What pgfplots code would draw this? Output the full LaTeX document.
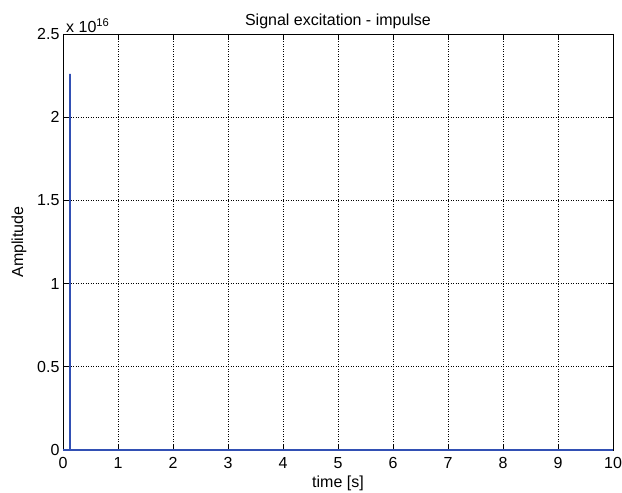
\documentclass[border=0pt]{standalone}
\usepackage{fontspec}
\setmainfont{Liberation Sans}
\usepackage{pgfplots}
\pgfplotsset{compat=1.18}
\definecolor{mblue}{RGB}{50,80,180}
\newcommand{\cf}{\fontsize{16bp}{19bp}\selectfont}
\begin{document}
\cf
\begin{tikzpicture}
\path[use as bounding box] (0,0) rectangle (622bp,493bp);
\begin{axis}[
  at={(63bp,43bp)}, anchor=south west,
  scale only axis, width=550bp, height=416bp,
  xmin=0, xmax=10, ymin=0, ymax=2.5e16,
  xtick={0,1,...,10},
  ytick={0,0.5e16,1e16,1.5e16,2e16,2.5e16},
  scaled y ticks=base 10:-16,
  ytick scale label code/.code={x 10\textsuperscript{16}},
  every y tick scale label/.style={at={(rel axis cs:0,1)}, anchor=south west, inner sep=1bp, xshift=0bp},
  /pgf/number format/assume math mode=true,
  tick align=inside,
  major tick length=5bp,
  grid=major,
  major grid style={black, dash pattern=on 1bp off 1.5bp, line width=0.6bp},
  axis line style={black, line width=0.9bp},
  tick style={black, line width=0.6bp},
  clip=false,
  title={Signal excitation - impulse},
  title style={yshift=-6bp},
  xlabel={time [s]},
  ylabel={Amplitude},
  xlabel style={yshift=4bp},
  ylabel style={yshift=0bp},
  xticklabel style={yshift=-2bp},
  yticklabel style={xshift=2bp},
  tick label style={font=\cf},
  label style={font=\cf},
  title style={font=\cf},
]
\addplot[mblue, line width=1.3bp, sharp plot] coordinates {
  (0,0) (0.125,0) (0.125,2.26e16) (0.125,0) (10,0)
};
\end{axis}
\end{tikzpicture}
\end{document}
